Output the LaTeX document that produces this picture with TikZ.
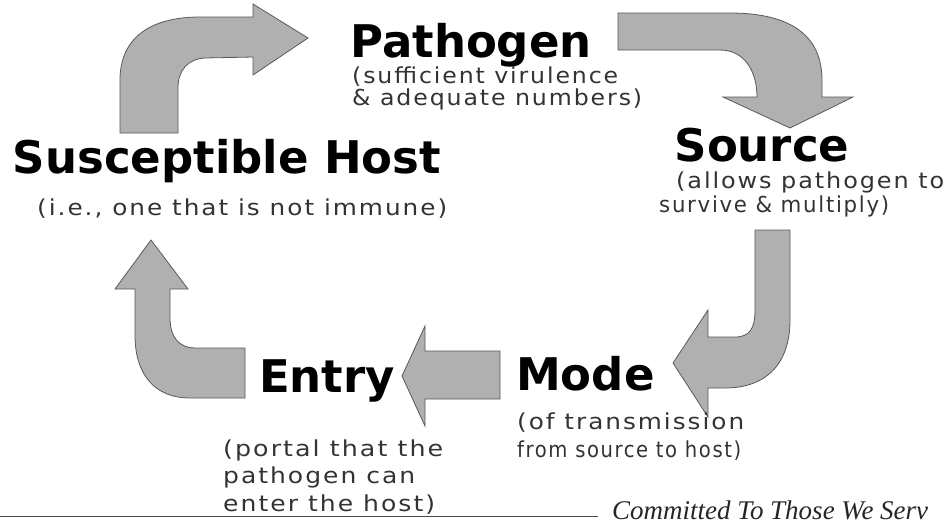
\documentclass[tikz,border=0pt]{standalone}
\usepackage{fontspec}
\usepackage{graphicx}
\setmainfont{DejaVu Sans}
\newfontfamily\subfont[LetterSpace=8]{DejaVu Sans}
\newfontfamily\footfont{Liberation Serif}
\newcommand\fitw[2]{\resizebox{#1}{\height}{#2}}
\begin{document}
\begin{tikzpicture}[x=1pt,y=-1pt,
  arr/.style={fill=gray!62, draw=black!65, line width=0.8pt, line join=miter},
  head/.style={font=\bfseries\fontsize{45}{50}\selectfont, inner sep=0pt, text=black},
  sub/.style={font=\subfont\fontsize{22}{27}\selectfont, inner sep=0pt, text=black!80},
  foot/.style={font=\footfont\itshape\fontsize{27}{30}\selectfont, inner sep=0pt, text=black!85, text depth=0pt}]
\useasboundingbox (0,0) rectangle (948,523);

% block arrows
% Host -> Pathogen
\draw[arr] (120,133) -- (120,80) .. controls (120,38) and (150,17) .. (200,17) -- (253,17)
  -- (253,4) -- (308,38) -- (253,75) -- (253,57) -- (205,58)
  .. controls (188,59) and (178,70) .. (178,88) -- (178,133) -- cycle;
% Pathogen -> Source
\draw[arr] (618,13) -- (730,13) .. controls (790,13) and (822,35) .. (822,80) -- (822,97)
  -- (853,97) -- (790,128) -- (723,97) -- (757,97)
  .. controls (757,72) and (745,50) .. (720,50) -- (618,50) -- cycle;
% Source -> Mode
\draw[arr] (790,230) -- (790,320) .. controls (790,365) and (765,388) .. (725,388) -- (708,388)
  -- (708,417) -- (673,363) -- (708,310) -- (708,337) -- (735,337)
  .. controls (750,337) and (755,328) .. (755,310) -- (755,230) -- cycle;
% Mode -> Entry
\draw[arr] (500,351) -- (425,351) -- (425,326) -- (402,376) -- (425,426) -- (425,399) -- (500,399) -- cycle;
% Entry -> Host
\draw[arr] (245,398) -- (190,398) .. controls (155,398) and (135,375) .. (135,335) -- (135,289)
  -- (115,289) -- (151,240) -- (188,289) -- (170,289) -- (170,318)
  .. controls (170,338) and (180,348) .. (195,348) -- (245,348) -- cycle;

% texts
\node[head, anchor=base] (pathogen) at (471,57) {Pathogen};
\node[sub, anchor=base west] (pathsubA) at (352,83) {\fitw{266pt}{(sufficient virulence}};
\node[sub, anchor=base west] (pathsubB) at (352,105) {\fitw{290pt}{\& adequate numbers)}};

\node[head, anchor=base] (host) at (227,173) {Susceptible Host};
\node[sub, anchor=base west] (hostsub) at (37,215) {\fitw{410pt}{(i.e., one that is not immune)}};

\node[head, anchor=base] (source) at (762,161) {Source};
\node[sub, anchor=base west] (srcsubA) at (676,188) {\fitw{268pt}{(allows pathogen to}};
\node[sub, anchor=base west] (srcsubB) at (659,212) {\fitw{230pt}{survive \& multiply)}};

\node[head, anchor=base west] (mode) at (516,390) {Mode};
\node[sub, anchor=base west] (modesubA) at (517,429) {\fitw{227pt}{(of transmission}};
\node[sub, anchor=base west] (modesubB) at (517,457) {\fitw{224pt}{from source to host)}};

\node[head, anchor=base west] (entry) at (259,392) {Entry};
\node[sub, anchor=base west] (entrysubA) at (223,456) {\fitw{220pt}{(portal that the}};
\node[sub, anchor=base west] (entrysubB) at (223,483) {\fitw{192pt}{pathogen can}};
\node[sub, anchor=base west] (entrysubC) at (223,511) {\fitw{212pt}{enter the host)}};

% footer
\coordinate (footL) at (0,516);
\coordinate (footR) at (598,516);
\draw[black!70, line width=0.8pt] (footL) -- (footR);
\node[foot, anchor=base west] (motto) at (612,519) {Committed To Those We Serv};
\end{tikzpicture}
\end{document}
